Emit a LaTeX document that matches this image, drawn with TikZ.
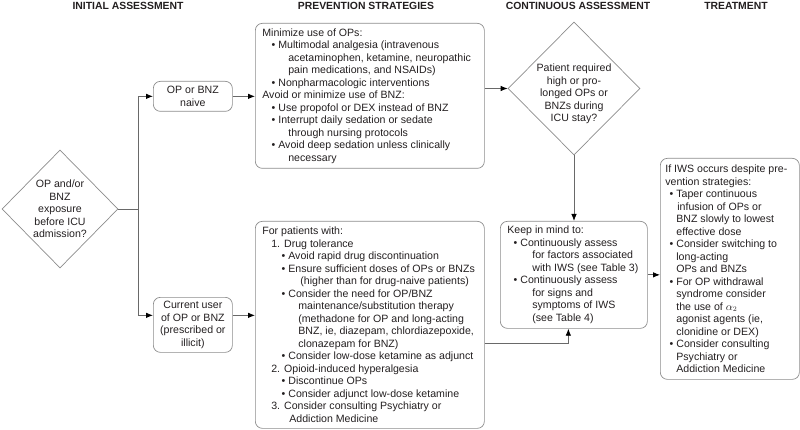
\documentclass[tikz,border=0pt]{standalone}
\usepackage{fontspec}
\setmainfont{Liberation Sans}
\usetikzlibrary{shapes.geometric,arrows.meta,calc}
\setlength\parindent{0pt}
\definecolor{txt}{RGB}{35,31,32}
\definecolor{boxc}{RGB}{140,140,140}
\definecolor{linec}{RGB}{105,105,105}
\newcommand\Ln[2]{\makebox[0pt][l]{\hspace*{#1pt}#2}}
\newcommand\Lb[2]{\makebox[0pt][l]{\hspace*{#1pt}\llap{\textbullet\hspace{3pt}}#2}}
\begin{document}
\begin{tikzpicture}[x=1pt,y=-1pt,
  every node/.style={text=txt},
  body/.style={font=\fontsize{10.6}{12.5}\selectfont},
  hdr/.style={font=\bfseries\fontsize{10.4}{12}\selectfont, anchor=base},
  rbox/.style={draw=boxc, line width=0.7pt, rounded corners=7pt, anchor=north west, align=left, inner ysep=0pt, body},
  sbox/.style={draw=boxc, line width=0.7pt, rounded corners=7pt, anchor=north west, align=center, inner sep=0pt, body, minimum width=79pt},
  diam/.style={draw=boxc, line width=0.7pt, diamond, inner sep=0pt},
  conn/.style={draw=linec, line width=0.8pt},
  arr/.style={conn, -{Latex[length=7pt,width=5.5pt,color=black]}},
]
\useasboundingbox (0,0) rectangle (800,430);

% headers
\node[hdr] (h1) at (128,9.5) {INITIAL ASSESSMENT};
\node[hdr] (h2) at (366,9.5) {PREVENTION STRATEGIES};
\node[hdr] (h3) at (578,9.5) {CONTINUOUS ASSESSMENT};
\node[hdr] (h4) at (736,9.5) {TREATMENT};

% initial diamond
\node[diam, minimum width=116pt, minimum height=118pt] (d1) at (60,209) {};
\node[body, align=center] (d1t) at (60,209) {OP and/or\\BNZ\\exposure\\before ICU\\admission?};

% small boxes
\node[sbox, minimum height=30pt] (naive) at (153,81) {OP or BNZ\\naive};
\node[sbox, minimum height=55pt] (cur) at (153,297) {Current user\\of OP or BNZ\\(prescribed or\\illicit)};

% prevention boxes
\node[rbox, inner xsep=7pt, minimum height=145pt] (p1) at (255,23) {%
\Ln{0}{Minimize use of OPs:}\hspace*{215pt}\\
\Lb{16}{Multimodal analgesia (intravenous}\\
\Ln{26}{acetaminophen, ketamine, neuropathic}\\
\Ln{26}{pain medications, and NSAIDs)}\\
\Lb{16}{Nonpharmacologic interventions}\\
\Ln{0}{Avoid or minimize use of BNZ:}\\
\Lb{16}{Use propofol or DEX instead of BNZ}\\
\Lb{16}{Interrupt daily sedation or sedate}\\
\Ln{26}{through nursing protocols}\\
\Lb{16}{Avoid deep sedation unless clinically}\\
\Ln{26}{necessary}};

\node[rbox, inner xsep=7pt, minimum height=207pt] (p2) at (255,221) {%
\Ln{0}{For patients with:}\hspace*{215pt}\\
\Ln{9}{1. Drug tolerance}\\
\Lb{26}{Avoid rapid drug discontinuation}\\
\Lb{26}{Ensure sufficient doses of OPs or BNZs}\\
\Ln{38}{(higher than for drug-naive patients)}\\
\Lb{26}{Consider the need for OP/BNZ}\\
\Ln{36}{maintenance/substitution therapy}\\
\Ln{36}{(methadone for OP and long-acting}\\
\Ln{36}{BNZ, ie, diazepam, chlordiazepoxide,}\\
\Ln{36}{clonazepam for BNZ)}\\
\Lb{26}{Consider low-dose ketamine as adjunct}\\
\Ln{9}{2. Opioid-induced hyperalgesia}\\
\Lb{26}{Discontinue OPs}\\
\Lb{26}{Consider adjunct low-dose ketamine}\\
\Ln{9}{3. Consider consulting Psychiatry or}\\
\Ln{27}{Addiction Medicine}};

% continuous assessment
\node[diam, minimum width=132pt, minimum height=133pt] (d2) at (574,88.5) {};
\node[body, align=center] (d2t) at (574,94) {Patient required\\high or pro-\\longed OPs or\\BNZs during\\ICU stay?};

\node[rbox, inner xsep=7pt, minimum height=107pt] (keep) at (500,221) {%
\Ln{0}{Keep in mind to:}\hspace*{133pt}\\
\Lb{13}{Continuously assess}\\
\Ln{25}{for factors associated}\\
\Ln{25}{with IWS (see Table 3)}\\
\Lb{13}{Continuously assess}\\
\Ln{25}{for signs and}\\
\Ln{25}{symptoms of IWS}\\
\Ln{25}{(see Table 4)}};

% treatment
\node[rbox, inner xsep=5pt, minimum height=221pt] (treat) at (660,158) {%
\Ln{0}{If IWS occurs despite pre-}\hspace*{129pt}\\
\Ln{0}{vention strategies:}\\
\Lb{11}{Taper continuous}\\
\Ln{12}{infusion of OPs or}\\
\Ln{11}{BNZ slowly to lowest}\\
\Ln{11}{effective dose}\\
\Lb{11}{Consider switching to}\\
\Ln{11}{long-acting}\\
\Ln{11}{OPs and BNZs}\\
\Lb{11}{For OP withdrawal}\\
\Ln{11}{syndrome consider}\\
\Ln{11}{the use of $\alpha_2$}\\
\Ln{11}{agonist agents (ie,}\\
\Ln{11}{clonidine or DEX)}\\
\Lb{11}{Consider consulting}\\
\Ln{11}{Psychiatry or}\\
\Ln{11}{Addiction Medicine}};

% connectors
\coordinate (j1) at ($(d1.east)+(20,0)$);
\draw[conn] (d1.east) -- (j1);
\draw[arr] (j1) |- (naive.west);
\draw[arr] (j1) |- ([yshift=9.5pt]cur.west);
\draw[arr] (naive.east) -- (naive.east -| p1.west);
\draw[arr] ([yshift=9.5pt]cur.east) -- ([yshift=9.5pt]cur.east -| p2.west);
\draw[arr] (d2.west -| p1.east) -- (d2.west);
\draw[arr] (d2.south) -- (d2.south |- keep.north);
\draw[arr] ([yshift=-18.5pt]p2.east) -| ([xshift=-5.5pt]keep.south);
\draw[arr] (keep.east) -- (keep.east -| treat.west);
\end{tikzpicture}
\end{document}
